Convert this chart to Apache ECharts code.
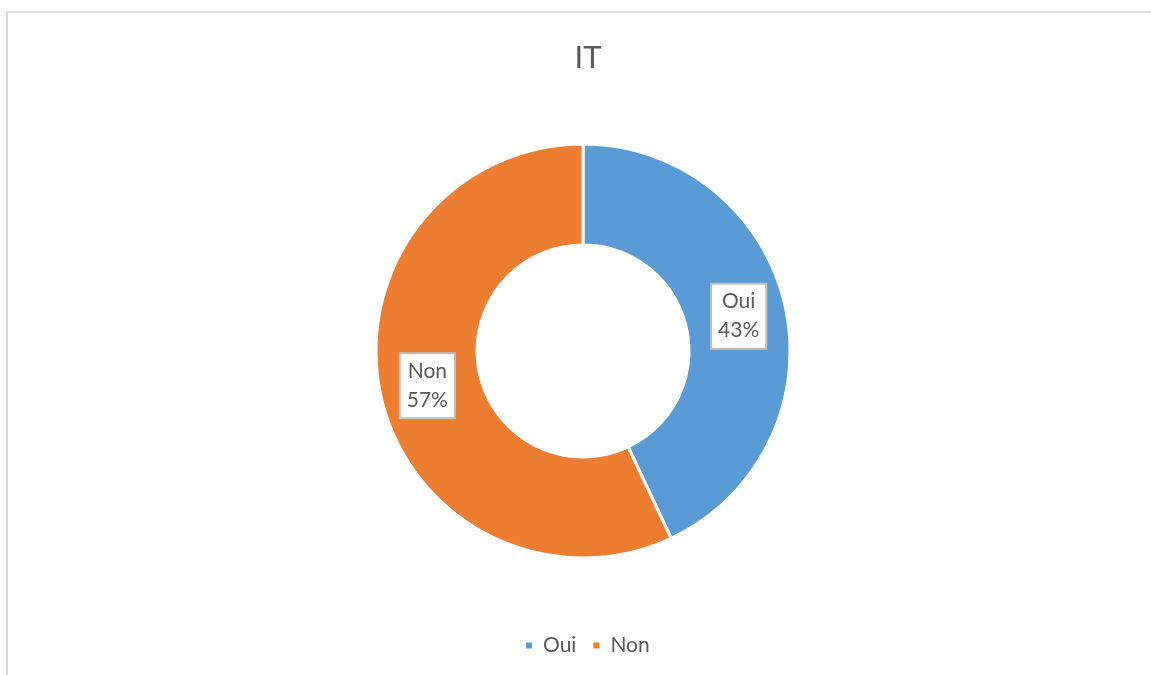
<!DOCTYPE html>
<html>
<head>
<meta charset="utf-8">
<script src="https://cdn.jsdelivr.net/npm/echarts@6/dist/echarts.min.js"></script>
<style>
  html, body { margin: 0; padding: 0; background: #fff; }
  #frame {
    position: absolute; left: 6px; top: 11px;
    width: 1160px; height: 680px;
    border: 2px solid #d9d9d9;
    box-sizing: border-box;
  }
  #chart { position: absolute; left: 0; top: 0; width: 1151px; height: 675px; }
</style>
</head>
<body>
<div id="frame"></div>
<div id="chart"></div>
<script>
// Chart data
const categories = ['Oui', 'Non']
const values = [43, 57]
const colors = ['#5b9bd5', '#ed7d31']

const chart = echarts.init(document.getElementById('chart'))

chart.setOption({
  animation: false,
  textStyle: { fontFamily: 'Lato, "Noto Sans", sans-serif' },
  title: {
    text: 'IT',
    left: 583,
    textAlign: 'center',
    top: 37,
    textStyle: { color: '#595959', fontSize: 31, fontWeight: 'normal', fontFamily: 'Lato, sans-serif' }
  },
  legend: {
    data: categories,
    bottom: 14,
    left: 519,
    icon: 'rect',
    itemWidth: 8,
    itemHeight: 8,
    itemGap: 15,
    textStyle: { color: '#595959', fontSize: 21, fontFamily: 'Lato, sans-serif', padding: [0, 0, 0, 5] }
  },
  series: [{
    type: 'pie',
    center: [583, 351],
    radius: [106, 207],
    startAngle: 90,
    clockwise: true,
    color: colors,
    itemStyle: { borderColor: '#fff', borderWidth: 3 },
    label: {
      show: true,
      position: 'inside',
      formatter: '{b}\n{d}%',
      color: '#595959',
      fontSize: 21,
      lineHeight: 29,
      fontFamily: 'Lato, sans-serif',
      backgroundColor: '#fff',
      borderColor: '#bfbfbf',
      borderWidth: 2,
      padding: [3, 6, 2, 6]
    },
    labelLine: { show: false },
    emphasis: { disabled: true },
    data: categories.map((name, i) => ({ name: name, value: values[i] }))
  }]
})
</script>
</body>
</html>
